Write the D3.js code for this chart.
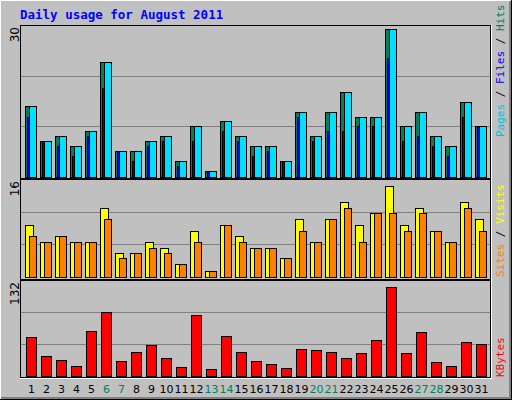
<!DOCTYPE html>
<html><head><meta charset="utf-8">
<script src="https://cdn.jsdelivr.net/npm/d3@7/dist/d3.min.js"></script>
<style>body{margin:0;background:#fff}</style></head>
<body><svg id="c" width="512" height="400"></svg>
<script>
const days = d3.range(1, 32);
const weekends = [6,7,13,14,20,21,27,28];
const hits  = [14,7,8,6,9,22.6,5,5,7,8,3,10,1,11,8,6,6,3,12.7,8,12.7,16.7,11.7,11.7,29.2,10,12.7,8,6,14.7,10];
const files = [11.7,7,6,4,8,17.6,5,3,6,7,2,7,1,9,7,4,5,3,11.7,7,9,9,10,10,23.4,7,8,6,4,11.7,10];
const pages = hits.slice();
const visits = [8.5,5.7,6.7,5.7,5.7,11.2,3.8,3.8,5.7,4.7,2,7.5,1,8.5,6.7,4.7,4.7,3,9.4,5.7,9.4,12.2,8.5,10.4,14.9,8.5,11.2,7.5,5.7,12.2,9.4];
const sites  = [6.7,5.7,6.7,5.7,5.7,9.4,3,3.8,4.7,3.8,2,5.7,1,8.5,5.7,4.7,4.7,3,7.5,5.7,9.4,11.2,5.7,10.4,10.4,7.5,10.4,7.5,5.7,11.2,7.5];
const kbytes = [53,27.4,22,13.9,61,88,20.7,32.8,42.2,24.7,12.6,84,9.9,54.3,32.8,20.7,16.6,11.2,36.8,35.5,32.8,24.7,31.4,49,123,31.4,59.7,19.3,13.9,46.2,43.5];
const maxLabels = ["30","16","132"];
const maxVals = [30,16,132];

const svg = d3.select("#c");
svg.append("rect").attr("width",512).attr("height",400).attr("fill","#c0c0c0");
// 3D frame
svg.append("path").attr("d","M0.5,399.5V0.5H511.5").attr("stroke","#fff").attr("fill","none");
svg.append("path").attr("d","M1,398.5H510.5V1").attr("stroke","#808080").attr("stroke-width",3).attr("fill","none");
svg.append("path").attr("d","M0,399.5H511.5V0").attr("stroke","#000").attr("fill","none");

svg.append("text").attr("x",20).attr("y",19).text("Daily usage for August 2011")
  .attr("font-family","DejaVu Sans Mono, monospace").attr("font-weight","bold").attr("font-size",12.5).attr("fill","#0000ff");

const x = d3.scaleBand().domain(days).range([22,487]).paddingInner(0);
const panels = [{t:25,b:178},{t:179,b:279},{t:280,b:377}];
const base = [176.5,276.7,375.7];
const ys = panels.map((p,i)=>d3.scaleLinear().domain([0,maxVals[i]]).range([base[i], base[i]-(base[i]-p.t)*(i==0?1:1)]));

panels.forEach((p,i)=>{
  const y = ys[i];
  [1,2].forEach(k=>{
    const gy = Math.round(y(maxVals[i]*k/3))+0.5;
    svg.append("line").attr("x1",21).attr("x2",490).attr("y1",gy).attr("y2",gy).attr("stroke","#808080");
  });
  svg.append("rect").attr("x",20.5).attr("y",p.t+0.5).attr("width",470).attr("height",p.b-p.t).attr("fill","none").attr("stroke","#000");
  svg.append("line").attr("x1",20).attr("x2",492).attr("y1",p.b+1.5).attr("y2",p.b+1.5).attr("stroke","#fff");
  svg.append("line").attr("x1",491.5).attr("x2",491.5).attr("y1",p.t).attr("y2",p.b+2).attr("stroke","#fff");
  svg.append("text").attr("transform",`translate(19,${p.t+(i==0?2:2)}) rotate(-90)`).attr("text-anchor","end")
    .attr("font-family","DejaVu Sans, sans-serif").attr("font-size",12).text(maxLabels[i]);
});

function bars(data, y, off, w, color){
  svg.append("g").selectAll("rect").data(data).join("rect")
    .attr("x",(d,i)=>Math.round(x(days[i]))+off+0.5)
    .attr("y",d=>Math.round(y(d))+0.5)
    .attr("width",w).attr("height",d=>Math.max(0,Math.round(base[ys.indexOf(y)])-Math.round(y(d))))
    .attr("fill",color).attr("stroke","#000");
}
bars(hits, ys[0], 3, 11, "#00805c");
bars(files, ys[0], 5, 2, "#0000ff");
bars(pages, ys[0], 7, 7, "#00e0ff");
bars(visits, ys[1], 3, 8, "#ffff00");
bars(sites, ys[1], 7, 7, "#ff8000");
bars(kbytes, ys[2], 4, 10, "#ff0000");

svg.append("g").selectAll("text").data(days).join("text")
  .attr("x",d=>x(d)+x.bandwidth()/2+2).attr("y",393).attr("text-anchor","middle")
  .attr("font-family","DejaVu Sans, sans-serif").attr("font-size",11)
  .attr("fill",d=>weekends.includes(d)?"#00805c":"#000").text(d=>d);

function legend(parts, yStart){
  const t = svg.append("text").attr("transform",`translate(504,${yStart}) rotate(-90)`)
    .attr("font-family","DejaVu Sans Mono, monospace").attr("font-size",11);
  parts.forEach(([s,c])=>t.append("tspan").attr("fill",c).text(s));
}
legend([["Pages","#00c0e0"],[" / ","#000"],["Files","#0000ff"],[" / ","#000"],["Hits","#00805c"]],137);
legend([["Sites","#ff8000"],[" / ","#000"],["Visits","#ffff00"]],277);
legend([["KBytes","#ff0000"]],377);
</script></body></html>
